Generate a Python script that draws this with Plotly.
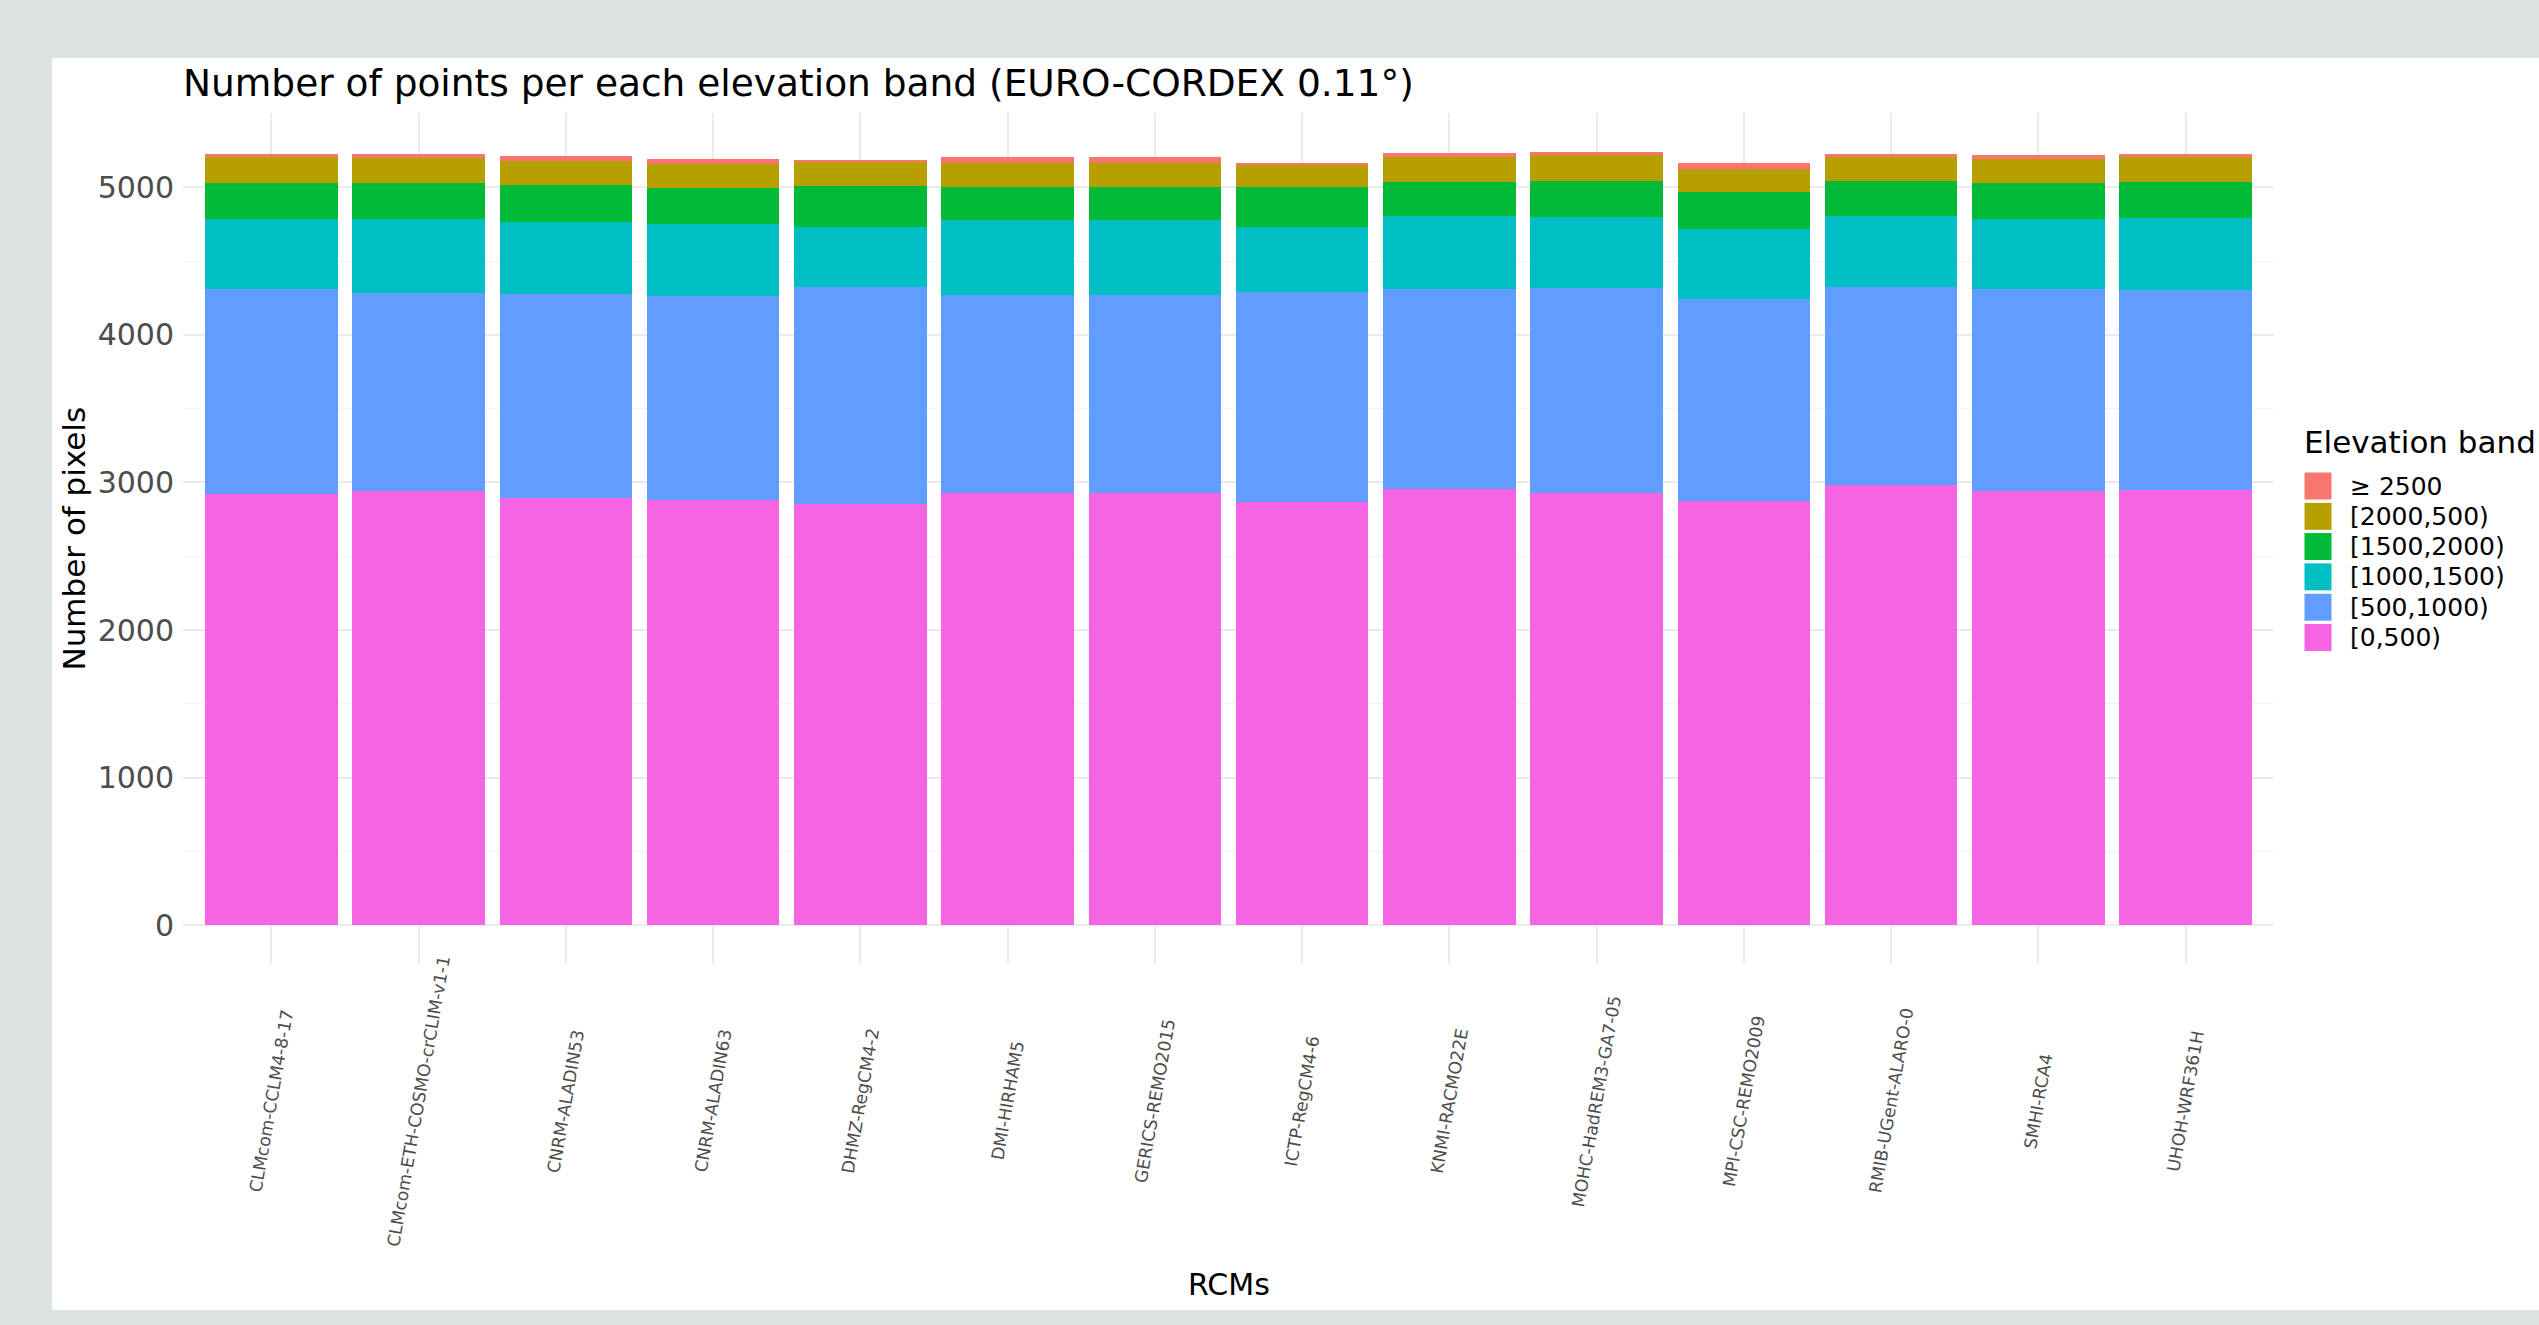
import plotly.graph_objects as go

# ---------------- data ----------------
categories = ["CLMcom-CCLM4-8-17", "CLMcom-ETH-COSMO-crCLIM-v1-1", "CNRM-ALADIN53",
              "CNRM-ALADIN63", "DHMZ-RegCM4-2", "DMI-HIRHAM5", "GERICS-REMO2015",
              "ICTP-RegCM4-6", "KNMI-RACMO22E", "MOHC-HadREM3-GA7-05",
              "MPI-CSC-REMO2009", "RMIB-UGent-ALARO-0", "SMHI-RCA4", "UHOH-WRF361H"]

band_0_500 = [2919, 2941, 2896, 2878, 2851, 2932, 2932, 2871, 2957, 2932, 2874, 2980, 2939, 2946]
band_500_1000 = [1390, 1343, 1384, 1384, 1476, 1341, 1341, 1422, 1352, 1384, 1372, 1347, 1372, 1359]
band_1000_1500 = [479, 502, 487, 492, 407, 504, 504, 438, 495, 485, 474, 481, 475, 487]
band_1500_2000 = [244, 246, 247, 242, 277, 226, 228, 269, 230, 242, 246, 235, 243, 242]
band_2000_2500 = [176, 169, 163, 161, 163, 161, 161, 149, 169, 178, 158, 160, 165, 171]
band_ge_2500 = [18, 25, 34, 36, 4, 39, 40, 14, 32, 21, 41, 25, 27, 23]

band_labels = ["[0,500)", "[500,1000)", "[1000,1500)", "[1500,2000)", "[2000,500)", "\u2265 2500"]
band_colors = ["#F564E3", "#619CFF", "#00BFC4", "#00BA38", "#B79F00", "#F8766D"]
band_values = [band_0_500, band_500_1000, band_1000_1500, band_1500_2000, band_2000_2500, band_ge_2500]

y_ticks = [0, 1000, 2000, 3000, 4000, 5000]

# ---------------- layout geometry (pixels) ----------------
W, H = 2539, 1325
L, R, T, B = 183, 2274, 113, 964
PW, PH = R - L, B - T


def px_x(px):
    return (px - L) / PW


def px_y(py):
    return (B - py) / PH


FONT = "DejaVu Sans"

fig = go.Figure()
for lab, col, vals in zip(band_labels, band_colors, band_values):
    fig.add_trace(go.Bar(x=categories, y=vals, name=lab, marker_color=col,
                         marker_line_width=0, showlegend=False))

ymax = 5503
ymin = -262

fig.update_layout(
    width=W, height=H,
    barmode="stack", bargap=0.1,
    paper_bgcolor="#dde3e2", plot_bgcolor="white",
    margin=dict(l=L, r=W - R, t=T, b=H - B, pad=0),
    font=dict(family=FONT, color="#4d4d4d"),
    title=dict(text="Number of points per each elevation band (EURO-CORDEX 0.11\u00b0)",
               x=L / W, xanchor="left", y=1 - 83 / H, yanchor="middle",
               font=dict(family=FONT, size=37.5, color="black")),
    xaxis=dict(type="category", categoryarray=categories, range=[-0.6, 13.6],
               showgrid=True, gridcolor="#ebebeb", gridwidth=2.2,
               showticklabels=False, ticks="", showline=False, zeroline=False,
               fixedrange=True),
    yaxis=dict(range=[ymin, ymax], tickvals=y_ticks, ticks="",
               showgrid=True, gridcolor="#ebebeb", gridwidth=2.2,
               minor=dict(dtick=500, tick0=0, showgrid=True, gridcolor="#f3f3f3", gridwidth=1.2),
               zeroline=False, showline=False,
               tickfont=dict(family=FONT, size=30, color="#4d4d4d"),
               ticklabelstandoff=8),
)

shapes = []
# white panel over grey background
shapes.append(dict(type="rect", xref="paper", yref="paper", layer="below",
                   x0=px_x(52), x1=px_x(2545), y0=px_y(1310), y1=px_y(58),
                   fillcolor="white", line_width=0))

annotations = []
# x category labels (rotated, centred)
for c in categories:
    annotations.append(dict(x=c, y=px_y(1101), xref="x", yref="paper", text=c,
                            textangle=-80, showarrow=False, xanchor="center", yanchor="middle",
                            font=dict(family=FONT, size=17.3, color="#4d4d4d")))
# axis titles
annotations.append(dict(x=0.5, y=px_y(1284), xref="paper", yref="paper", text="RCMs",
                        showarrow=False, xanchor="center", yanchor="middle",
                        font=dict(family=FONT, size=30, color="black")))
annotations.append(dict(x=px_x(73), y=0.5, xref="paper", yref="paper", text="Number of pixels",
                        textangle=-90, showarrow=False, xanchor="center", yanchor="middle",
                        font=dict(family=FONT, size=31, color="black")))

# legend (manual, top item = highest band)
annotations.append(dict(x=px_x(2302), y=px_y(442), xref="paper", yref="paper",
                        text="Elevation band", showarrow=False, xanchor="left", yanchor="middle",
                        font=dict(family=FONT, size=31, color="black")))
leg_order = list(range(len(band_labels)))[::-1]
for k, i in enumerate(leg_order):
    cy = 486 + k * 30.3
    shapes.append(dict(type="rect", xref="paper", yref="paper",
                       x0=px_x(2304), x1=px_x(2332), y0=px_y(cy + 14), y1=px_y(cy - 14),
                       fillcolor=band_colors[i], line=dict(color="white", width=1)))
    annotations.append(dict(x=px_x(2348), y=px_y(cy), xref="paper", yref="paper",
                            text=band_labels[i], showarrow=False, xanchor="left", yanchor="middle",
                            font=dict(family=FONT, size=25, color="black")))

fig.update_layout(shapes=shapes, annotations=annotations)

fig.write_html("out.html")
